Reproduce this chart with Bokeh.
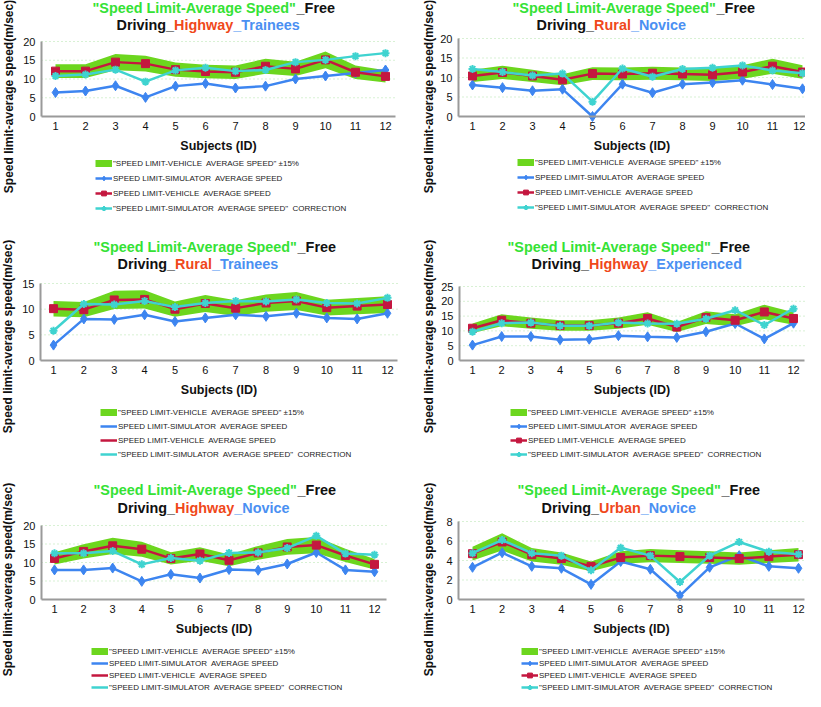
from bokeh.plotting import figure
from bokeh.models import Range1d, Label, Legend, LegendItem, FixedTicker
from bokeh.layouts import column, row
from bokeh.embed import file_html
from bokeh.resources import INLINE

subjects = [1, 2, 3, 4, 5, 6, 7, 8, 9, 10, 11, 12]

# ---- Highway / Trainees
hw_tr_vehicle = [12.1, 12.1, 14.5, 14.1, 12.5, 12.0, 11.8, 13.4, 12.7, 15.1, 11.8, 10.7]
hw_tr_sim = [6.4, 6.8, 8.2, 5.1, 8.1, 8.8, 7.6, 8.1, 10.0, 10.8, 11.6, 12.4]
hw_tr_corr = [10.8, 11.2, 12.5, 9.3, 12.3, 13.0, 12.1, 12.4, 14.5, 15.1, 16.1, 16.9]
# ---- Rural / Novice
ru_no_vehicle = [10.4, 11.3, 10.4, 9.4, 11.0, 10.9, 11.1, 10.9, 10.7, 11.4, 12.9, 11.4]
ru_no_sim = [8.1, 7.4, 6.6, 7.0, 0.0, 8.3, 6.1, 8.3, 8.7, 9.3, 8.2, 7.1]
ru_no_corr = [12.2, 11.4, 10.5, 11.0, 3.8, 12.3, 10.2, 12.2, 12.5, 13.1, 11.8, 11.1]
# ---- Rural / Trainees
ru_tr_vehicle = [10.1, 9.9, 11.8, 11.9, 10.0, 11.1, 10.2, 11.2, 11.6, 10.3, 10.6, 10.9]
ru_tr_sim = [3.0, 8.1, 8.0, 8.9, 7.6, 8.3, 8.9, 8.6, 9.2, 8.3, 8.1, 9.2]
ru_tr_corr = [5.8, 11.0, 10.9, 11.6, 10.4, 11.2, 11.6, 11.5, 11.9, 11.2, 11.1, 12.2]
# ---- Highway / Experienced
hw_ex_vehicle = [10.9, 13.6, 12.6, 11.8, 11.8, 12.6, 14.2, 11.3, 14.5, 13.6, 16.4, 14.2]
hw_ex_sim = [5.2, 8.1, 8.1, 7.0, 7.2, 8.4, 8.0, 7.8, 9.7, 12.5, 7.3, 12.6]
hw_ex_corr = [9.7, 12.6, 12.8, 11.7, 11.7, 12.8, 12.5, 12.4, 14.1, 17.0, 12.0, 17.5]
# ---- Highway / Novice
hw_no_vehicle = [11.1, 13.0, 14.5, 13.6, 11.1, 12.3, 10.6, 12.6, 14.2, 14.7, 11.9, 9.5]
hw_no_sim = [8.0, 8.0, 8.5, 4.9, 6.8, 5.8, 8.1, 7.9, 9.6, 12.7, 8.0, 7.5]
hw_no_corr = [12.5, 12.5, 13.1, 9.5, 11.2, 10.5, 12.6, 12.7, 13.9, 17.2, 12.4, 12.1]
# ---- Urban / Novice
ur_no_vehicle = [4.7, 5.9, 4.6, 4.2, 3.4, 4.3, 4.5, 4.4, 4.3, 4.2, 4.4, 4.6]
ur_no_sim = [3.3, 4.8, 3.4, 3.2, 1.55, 3.9, 3.1, 0.4, 3.3, 4.5, 3.4, 3.2]
ur_no_corr = [4.75, 6.1, 4.75, 4.5, 3.0, 5.3, 4.5, 1.8, 4.5, 5.9, 4.9, 4.65]

band_pct = 0.15

ticks_20 = [0, 5, 10, 15, 20]
ticks_15 = [0, 5, 10, 15]
ticks_25 = [0, 5, 10, 15, 20, 25]
ticks_8 = [0, 2, 4, 6, 8]

locations = ["Highway", "Rural", "Rural", "Highway", "Highway", "Urban"]
groups = ["Trainees", "Novice", "Trainees", "Experienced", "Novice", "Novice"]

title_a = '"Speed Limit-Average Speed"'
title_b = "_Free"
title_c = "Driving_"
y_label = "Speed limit-average speed(m/sec)"
x_label = "Subjects (ID)"
legend_labels = ['"SPEED LIMIT-VEHICLE  AVERAGE SPEED" \u00b115%',
                 "SPEED LIMIT-SIMULATOR  AVERAGE SPEED",
                 "SPEED LIMIT-VEHICLE  AVERAGE SPEED",
                 '"SPEED LIMIT-SIMULATOR  AVERAGE SPEED"  CORRECTION']

FONT = "Liberation Sans"
TSIZE = 14.4
C_BAND = "#6cd61e"
C_SIM = "#3d85f0"
C_VEH = "#c4173f"
C_COR = "#3fd3d0"
C_TGREEN = "#35e235"
C_TRED = "#f0481a"
C_TBLUE = "#4a90f2"

AFM = {' ': 278, '"': 474, '-': 333, '_': 556, 'A': 722, 'D': 722, 'E': 667, 'F': 611,
       'H': 722, 'L': 611, 'N': 722, 'R': 722, 'S': 667, 'T': 611, 'U': 722,
       'a': 556, 'b': 611, 'c': 556, 'd': 611, 'e': 556, 'g': 611, 'h': 611, 'i': 278,
       'l': 278, 'm': 889, 'n': 611, 'o': 611, 'p': 611, 'r': 389, 's': 556, 't': 333,
       'u': 611, 'v': 556, 'w': 778, 'x': 556, 'y': 556}


def tw(s, size):
    return sum(AFM.get(ch, 556) for ch in s) * size / 1000.0


def make_panel(W, H, g, vehicle, sim, corr, yticks, loc, grp, markers):
    fl, fr, ft, fb = g["frame"]
    px1, px12 = g["px"]
    ymax = yticks[-1]
    step = (px12 - px1) / 11.0
    xs = 1 - px1 / step
    xe = 12 + (W - px12) / step
    xL = 1 - (px1 - fl) / step
    xR = 12 + (fr - px12) / step
    unit = (fb - ft) / float(ymax)
    ys = -(H - fb) / unit
    ye = ymax + ft / unit
    p = figure(width=W, height=H, output_backend="svg", toolbar_location=None,
               title=None, x_range=Range1d(xs, xe), y_range=Range1d(ys, ye),
               min_border_left=0, min_border_right=0,
               min_border_top=0, min_border_bottom=0)
    p.outline_line_color = None
    p.xgrid.visible = False
    p.ygrid.visible = False

    # faint dotted guide lines at the y ticks
    gt = [t for t in yticks if t > 0]
    p.segment(x0=[xL] * len(gt), x1=[xR] * len(gt), y0=gt, y1=gt,
              line_color="#9ddc95", line_dash="1 3", line_alpha=0.8, line_width=1)

    for ax in (p.xaxis[0], p.yaxis[0]):
        ax.axis_line_color = "#9a9a9a"
        ax.axis_line_width = 2
        ax.major_tick_line_color = None
        ax.minor_tick_line_color = None
        ax.major_tick_out = 0
        ax.major_tick_in = 0
        ax.major_label_text_font = FONT
        ax.major_label_text_font_size = "11px"
        ax.major_label_text_color = "#111111"
    p.xaxis.fixed_location = 0
    p.xaxis.bounds = (xL, xR)
    p.yaxis.fixed_location = xL
    p.yaxis.bounds = (0, ymax)
    p.xaxis.ticker = FixedTicker(ticks=subjects)
    p.yaxis.ticker = FixedTicker(ticks=yticks)
    p.xaxis.major_label_standoff = 5
    p.yaxis.major_label_standoff = 6
    p.xaxis.axis_label = x_label
    p.xaxis.axis_label_text_font = FONT
    p.xaxis.axis_label_text_font_size = "12.5px"
    p.xaxis.axis_label_text_font_style = "bold"
    p.xaxis.axis_label_text_color = "#111111"
    p.xaxis.axis_label_standoff = 6

    lower = [v * (1 - band_pct) for v in vehicle]
    upper = [v * (1 + band_pct) for v in vehicle]
    p.varea(x=subjects, y1=lower, y2=upper, fill_color=C_BAND)
    # legend-only stand-in for the band (a single undefined point draws nothing)
    band_proxy = p.line(x=[subjects[0]], y=[float("nan")], line_color=C_BAND, line_width=7)

    l_sim = p.line(subjects, sim, line_color=C_SIM, line_width=2.5)
    m_sim = p.scatter(subjects, sim, marker="diamond", size=10, fill_color=C_SIM, line_color=C_SIM)
    l_veh = p.line(subjects, vehicle, line_color=C_VEH, line_width=2.5)
    m_veh = p.scatter(subjects, vehicle, marker="square", size=8, fill_color=C_VEH, line_color=C_VEH)
    l_cor = p.line(subjects, corr, line_color=C_COR, line_width=2.5)
    m_cor = p.scatter(subjects, corr, marker="asterisk", size=8, line_color=C_COR, line_width=2)

    if markers:
        rs = [[band_proxy], [l_sim, m_sim], [l_veh, m_veh], [l_cor, m_cor]]
    else:
        rs = [[band_proxy], [l_sim], [l_veh], [l_cor]]
    items = [LegendItem(label=lab, renderers=r) for lab, r in zip(legend_labels, rs)]
    gh = 12
    c0, pitch = g["legend_y"]
    c3 = c0 + 3 * pitch
    leg = Legend(items=items, location=(g["legend_x"], H - (c3 + gh / 2.0)),
                 orientation="vertical", padding=0, margin=0, spacing=int(round(pitch - gh)),
                 glyph_height=gh, glyph_width=17, label_height=8, label_standoff=1,
                 label_text_font=FONT, label_text_font_size="8px",
                 label_text_color="#1a1a1a", label_text_baseline="middle",
                 border_line_color=None, background_fill_alpha=0)
    p.add_layout(leg)

    def lab(x, y, text, color, size=f"{TSIZE}px", style="bold", angle=0, align="left"):
        p.add_layout(Label(x=x, y=H - y, x_units="screen", y_units="screen",
                           text=text, text_color=color, text_font=FONT,
                           text_font_size=size, text_font_style=style,
                           angle=angle, angle_units="deg",
                           text_align=align, text_baseline="middle"))

    tx1, ty1, ty2 = g["title"]
    lab(tx1, ty1, title_a, C_TGREEN)
    lab(tx1 + tw(title_a, TSIZE), ty1, title_b, "#111111")
    tx2 = tx1 + 24
    lab(tx2, ty2, title_c, "#111111")
    lab(tx2 + tw(title_c, TSIZE), ty2, loc, C_TRED)
    lab(tx2 + tw(title_c + loc, TSIZE), ty2, "_" + grp, C_TBLUE)

    yx, yy = g["ylab"]
    lab(yx, yy, y_label, "#111111", size="12px", angle=90, align="center")
    return p


WL, WR = 406, 399
H1, H2, H3 = 227, 235, 229

geoms = [
    dict(frame=(41, 395, 41, 116), px=(55, 385), title=(92, 7, 24), ylab=(8, 96), legend_y=(164, 14.7), legend_x=95),
    dict(frame=(52, 399, 38, 116), px=(66, 396), title=(106, 7, 24), ylab=(22, 96), legend_y=(163, 14.7), legend_x=111),
    dict(frame=(40, 397, 56, 133), px=(53, 387), title=(93, 19, 36), ylab=(7, 109), legend_y=(185, 14), legend_x=100),
    dict(frame=(53, 398, 59, 133), px=(66, 387), title=(101, 19, 36), ylab=(22, 109), legend_y=(185, 14), legend_x=104),
    dict(frame=(41, 386, 63, 137), px=(54, 374), title=(93, 27, 45), ylab=(7, 117), legend_y=(189, 12), legend_x=91),
    dict(frame=(52, 398, 59, 137), px=(66, 392), title=(111, 27, 45), ylab=(22, 117), legend_y=(189, 12), legend_x=115),
]

p1 = make_panel(WL, H1, geoms[0], hw_tr_vehicle, hw_tr_sim, hw_tr_corr, ticks_20, locations[0], groups[0], True)
p2 = make_panel(WR, H1, geoms[1], ru_no_vehicle, ru_no_sim, ru_no_corr, ticks_20, locations[1], groups[1], True)
p3 = make_panel(WL, H2, geoms[2], ru_tr_vehicle, ru_tr_sim, ru_tr_corr, ticks_15, locations[2], groups[2], False)
p4 = make_panel(WR, H2, geoms[3], hw_ex_vehicle, hw_ex_sim, hw_ex_corr, ticks_25, locations[3], groups[3], True)
p5 = make_panel(WL, H3, geoms[4], hw_no_vehicle, hw_no_sim, hw_no_corr, ticks_20, locations[4], groups[4], False)
p6 = make_panel(WR, H3, geoms[5], ur_no_vehicle, ur_no_sim, ur_no_corr, ticks_8, locations[5], groups[5], True)

layout = column(row(p1, p2), row(p3, p4), row(p5, p6))
open("out.html", "w").write(file_html(layout, INLINE))
